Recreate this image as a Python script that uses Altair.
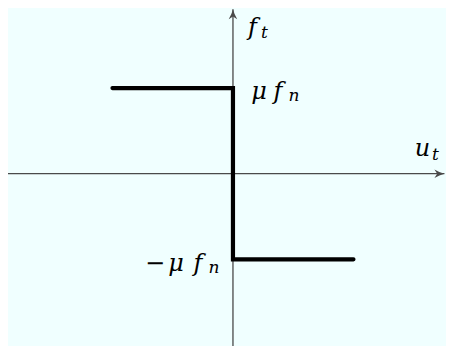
import altair as alt
import pandas as pd

# --- data -------------------------------------------------------------
# Coulomb friction law: f_t = mu*f_n * (-sign(u_t))
step_u = [-1.0, 0.0, 0.0, 1.0]      # tangential displacement u_t
step_f = [1.0, 1.0, -1.0, -1.0]     # tangential force f_t (units of mu*f_n)
MU_FN = 1.0                          # friction threshold level

# extent of the drawn coordinate axes (data units)
axis_u = [-1.867, 1.755]
axis_f = [-2.013, 1.92]

FONT = "DejaVu Serif"
AXIS_COL = "#4a4a4a"

xs = alt.Scale(domain=[-1.867, 1.768], nice=False, zero=False)
ys = alt.Scale(domain=[-2.013, 1.936], nice=False, zero=False)

def X(field):
    return alt.X(field, type="quantitative", scale=xs, axis=None)

def Y(field):
    return alt.Y(field, type="quantitative", scale=ys, axis=None)

# horizontal axis (u_t)
h_axis = alt.Chart(pd.DataFrame({"u": [axis_u[0]], "u2": [axis_u[1]], "f": [0.0]})).mark_rule(
    color=AXIS_COL, strokeWidth=1.3
).encode(x=X("u"), x2="u2", y=Y("f"))

# vertical axis (f_t)
v_axis = alt.Chart(pd.DataFrame({"u": [0.0], "f": [axis_f[0]], "f2": [axis_f[1]]})).mark_rule(
    color=AXIS_COL, strokeWidth=1.3
).encode(x=X("u"), y=Y("f"), y2="f2")

ARROW = "M0,0 Q-1,-0.25 -2,-0.85 L-1.45,0 L-2,0.85 Q-1,0.25 0,0 Z"

arrow_r = alt.Chart(pd.DataFrame({"u": [axis_u[1]], "f": [0.0]})).mark_point(
    shape=ARROW, filled=True, size=100, color=AXIS_COL, opacity=1, strokeWidth=0
).encode(x=X("u"), y=Y("f"))

arrow_t = alt.Chart(pd.DataFrame({"u": [0.0], "f": [axis_f[1]]})).mark_point(
    shape=ARROW, filled=True, size=100, color=AXIS_COL, opacity=1, strokeWidth=0, angle=270
).encode(x=X("u"), y=Y("f"))

# friction law (thick step)
step_df = pd.DataFrame({"u": step_u, "f": step_f, "i": list(range(len(step_u)))})
step = alt.Chart(step_df).mark_line(
    color="black", strokeWidth=4.2, strokeCap="round", strokeJoin="miter"
).encode(x=X("u"), y=Y("f"), order="i:O")


def glyph(text, u, f, dx, dy, size, italic=True):
    return alt.Chart(pd.DataFrame({"u": [u], "f": [f], "t": [text]})).mark_text(
        dx=dx, dy=dy, fontSize=size, font=FONT,
        fontStyle="italic" if italic else "normal",
        align="center", baseline="alphabetic", color="black"
    ).encode(x=X("u"), y=Y("f"), text="t:N")

MAIN = 24
SUB = 17

labels = [
    # f_t near the top of the vertical axis
    glyph("f", 0.0, axis_f[1], 19.5, 25.7, MAIN),
    glyph("t", 0.0, axis_f[1], 31.5, 28.7, SUB),
    # u_t near the right end of the horizontal axis
    glyph("u", axis_u[1], 0.0, -22, -17.7, MAIN),
    glyph("t", axis_u[1], 0.0, -9, -14.2, SUB),
    # mu f_n
    glyph("μ", 0.0, MU_FN, 26, 10.4, MAIN),
    glyph("f", 0.0, MU_FN, 45, 10.4, MAIN),
    glyph("n", 0.0, MU_FN, 61, 12.4, SUB),
    # -mu f_n
    glyph("\u2212", 0.0, -MU_FN, -78, 11.7, MAIN, italic=False),
    glyph("μ", 0.0, -MU_FN, -57, 11.7, MAIN),
    glyph("f", 0.0, -MU_FN, -35, 11.7, MAIN),
    glyph("n", 0.0, -MU_FN, -19, 14.2, SUB),
]

chart = alt.layer(h_axis, v_axis, step, arrow_r, arrow_t, *labels).properties(
    width=438, height=338, padding=0, autosize=alt.AutoSizeParams(type="none"),
    background="#f0ffff"
).configure_view(stroke=None)

chart.save("out.html", embed_options={"renderer": "svg", "actions": False})
